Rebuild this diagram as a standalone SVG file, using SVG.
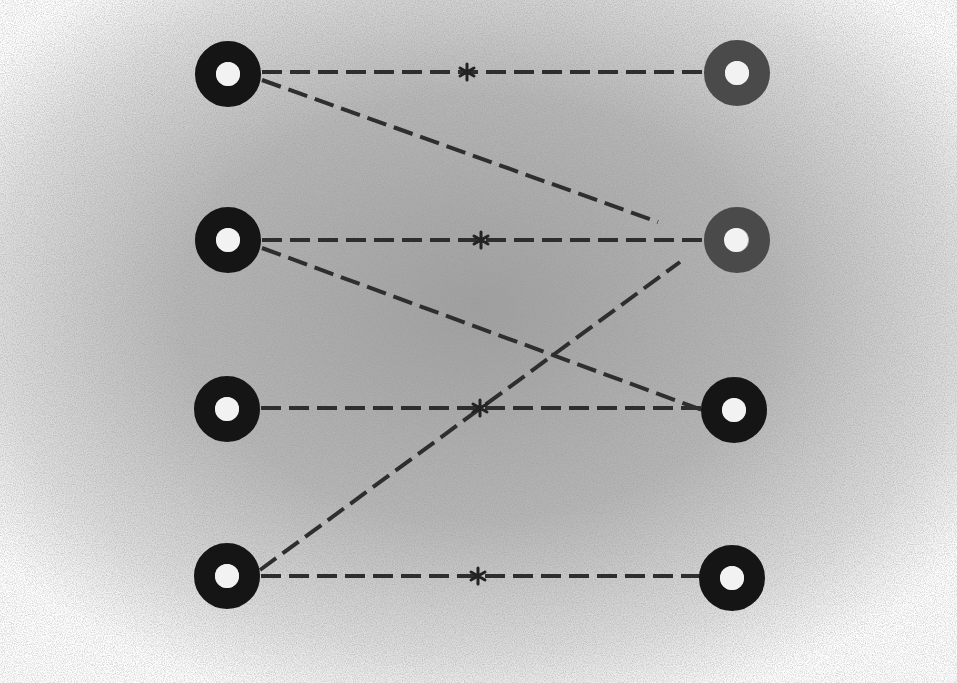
<svg xmlns="http://www.w3.org/2000/svg" width="957" height="683" viewBox="0 0 957 683">
<defs>
<radialGradient id="bg" cx="0.5" cy="0.45" r="0.62">
<stop offset="0" stop-color="#a0a0a0"/>
<stop offset="0.5" stop-color="#b6b6b6"/>
<stop offset="0.82" stop-color="#dedede"/>
<stop offset="1" stop-color="#ffffff"/>
</radialGradient>
<filter id="noise" x="0" y="0" width="100%" height="100%">
<feTurbulence type="fractalNoise" baseFrequency="0.9" numOctaves="2" seed="3" result="t"/>
<feColorMatrix type="matrix" values="0 0 0 0 0.3  0 0 0 0 0.3  0 0 0 0 0.3  0 0 0 -2.2 1.4" result="n"/>
<feComposite in="n" in2="SourceGraphic" operator="in"/>
</filter>
<style>
.dash{fill:none;stroke:#2e2e2e;stroke-width:4;stroke-dasharray:20 8}
.star{fill:none;stroke:#222;stroke-width:3;stroke-linecap:round}
.ring{fill:none;stroke-width:21}
.dark{stroke:#151515}
.gray{stroke:#4a4a4a}
.hole{fill:#f2f2f2}
</style>
</defs>
<rect width="957" height="683" fill="#ffffff"/>
<rect x="0" y="0" width="957" height="683" fill="url(#bg)"/>
<rect x="0" y="0" width="957" height="683" fill="#888" filter="url(#noise)" opacity="0.4"/>
<g id="connectors">
<line class="dash" x1="262" y1="72" x2="704" y2="72"/>
<line class="dash" x1="262" y1="80" x2="658" y2="222"/>
<line class="dash" x1="262" y1="240" x2="704" y2="240"/>
<line class="dash" x1="262" y1="248" x2="702" y2="410"/>
<line class="dash" x1="261" y1="408" x2="701" y2="408"/>
<line class="dash" x1="260" y1="570" x2="680" y2="262"/>
<line class="dash" x1="261" y1="576" x2="700" y2="576"/>
<g class="star">
<path d="M467 64v16M460 68l14 8M474 68l-14 8"/>
<path d="M481 232v16M474 236l14 8M488 236l-14 8"/>
<path d="M480 400v16M473 404l14 8M487 404l-14 8"/>
<path d="M478 568v16M471 572l14 8M485 572l-14 8"/>
</g>
</g>
<g id="L1"><circle class="ring dark" cx="228" cy="74" r="22.5"/><circle class="hole" cx="228" cy="74" r="12"/></g>
<g id="L2"><circle class="ring dark" cx="228" cy="240" r="22.5"/><circle class="hole" cx="228" cy="240" r="12"/></g>
<g id="L3"><circle class="ring dark" cx="227" cy="409" r="22.5"/><circle class="hole" cx="227" cy="409" r="12"/></g>
<g id="L4"><circle class="ring dark" cx="227" cy="576" r="22.5"/><circle class="hole" cx="227" cy="576" r="12"/></g>
<g id="R1"><circle class="ring gray" cx="737" cy="73" r="22.5"/><circle class="hole" cx="737" cy="73" r="12"/></g>
<g id="R2"><circle class="ring gray" cx="737" cy="240" r="22.5"/><circle class="hole" cx="736" cy="240" r="12"/></g>
<g id="R3"><circle class="ring dark" cx="734" cy="410" r="22.5"/><circle class="hole" cx="734" cy="410" r="12"/></g>
<g id="R4"><circle class="ring dark" cx="732" cy="578" r="22.5"/><circle class="hole" cx="732" cy="578" r="12"/></g>
</svg>
